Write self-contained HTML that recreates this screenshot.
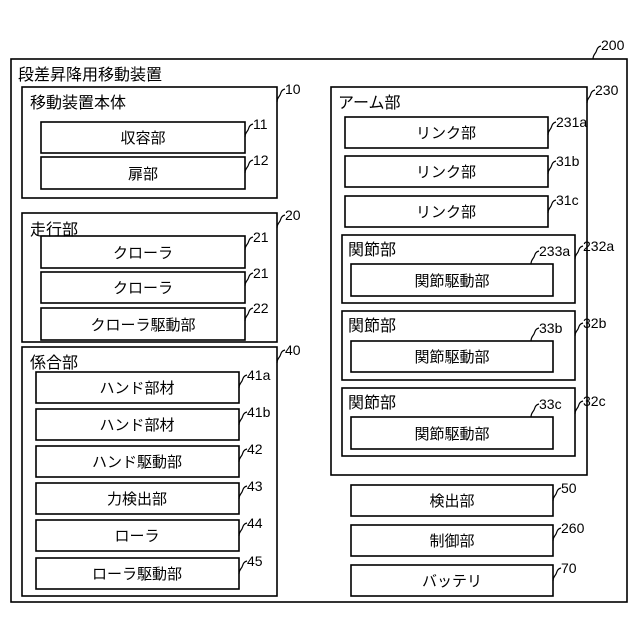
<!DOCTYPE html>
<html><head><meta charset="utf-8"><style>
html,body{margin:0;padding:0;background:#fff;}
svg{display:block}
text{font-family:"Liberation Sans","Noto Sans CJK JP",sans-serif;fill:#000}
.b{font-size:15px;text-anchor:middle}
.t{font-size:16px}
.n{font-size:14px}
rect{fill:none;stroke:#000;stroke-width:1.6}
path{fill:none;stroke:#000;stroke-width:1.2}
</style></head><body>
<svg width="640" height="640" viewBox="0 0 640 640" xmlns="http://www.w3.org/2000/svg">
<rect x="11" y="59" width="616" height="543"/>
<text class="t" x="18" y="80">段差昇降用移動装置</text>

<rect x="22" y="87" width="255" height="111"/>
<text class="t" x="30" y="108">移動装置本体</text>
<rect x="41" y="122" width="204" height="31"/><text class="b" x="143" y="143">収容部</text>
<rect x="41" y="157" width="204" height="32"/><text class="b" x="143" y="179">扉部</text>

<rect x="22" y="213" width="255" height="129"/>
<text class="t" x="30" y="235">走行部</text>
<rect x="41" y="236" width="204" height="32"/><text class="b" x="143" y="258">クローラ</text>
<rect x="41" y="272" width="204" height="31"/><text class="b" x="143" y="293">クローラ</text>
<rect x="41" y="308" width="204" height="32"/><text class="b" x="143" y="330">クローラ駆動部</text>

<rect x="22" y="347" width="255" height="249"/>
<text class="t" x="30" y="368">係合部</text>
<rect x="36" y="372" width="203" height="31"/><text class="b" x="137" y="393">ハンド部材</text>
<rect x="36" y="409" width="203" height="31"/><text class="b" x="137" y="430">ハンド部材</text>
<rect x="36" y="446" width="203" height="31"/><text class="b" x="137" y="467">ハンド駆動部</text>
<rect x="36" y="483" width="203" height="31"/><text class="b" x="137" y="504">力検出部</text>
<rect x="36" y="520" width="203" height="31"/><text class="b" x="137" y="541">ローラ</text>
<rect x="36" y="558" width="203" height="31"/><text class="b" x="137" y="579">ローラ駆動部</text>

<rect x="331" y="87" width="256" height="388"/>
<text class="t" x="338" y="108">アーム部</text>
<rect x="345" y="117" width="203" height="31"/><text class="b" x="446" y="138">リンク部</text>
<rect x="345" y="156" width="203" height="31"/><text class="b" x="446" y="177">リンク部</text>
<rect x="345" y="196" width="203" height="31"/><text class="b" x="446" y="217">リンク部</text>

<rect x="342" y="235" width="233" height="68"/>
<text class="t" x="348" y="255">関節部</text>
<rect x="351" y="264" width="202" height="32"/><text class="b" x="452" y="286">関節駆動部</text>

<rect x="342" y="311" width="233" height="69"/>
<text class="t" x="348" y="331">関節部</text>
<rect x="351" y="341" width="202" height="31"/><text class="b" x="452" y="362">関節駆動部</text>

<rect x="342" y="388" width="233" height="68"/>
<text class="t" x="348" y="408">関節部</text>
<rect x="351" y="417" width="202" height="32"/><text class="b" x="452" y="439">関節駆動部</text>

<rect x="351" y="485" width="202" height="31"/><text class="b" x="452" y="506">検出部</text>
<rect x="351" y="525" width="202" height="31"/><text class="b" x="452" y="546">制御部</text>
<rect x="351" y="565" width="202" height="31"/><text class="b" x="452" y="586">バッテリ</text>

<g>
<path d="M593,59 c0,-4 2,-5 3,-7 s1,-5 5,-6"/><text class="n" x="601" y="50">200</text>
<path d="M277,102 c0,-4 2,-5 3,-7 s1,-5 5,-6"/><text class="n" x="285" y="94">10</text>
<path d="M245,137 c0,-4 2,-5 3,-7 s1,-5 5,-6"/><text class="n" x="253" y="129">11</text>
<path d="M245,173 c0,-4 2,-5 3,-7 s1,-5 5,-6"/><text class="n" x="253" y="165">12</text>
<path d="M277,228 c0,-4 2,-5 3,-7 s1,-5 5,-6"/><text class="n" x="285" y="220">20</text>
<path d="M245,250 c0,-4 2,-5 3,-7 s1,-5 5,-6"/><text class="n" x="253" y="242">21</text>
<path d="M245,286 c0,-4 2,-5 3,-7 s1,-5 5,-6"/><text class="n" x="253" y="278">21</text>
<path d="M245,321 c0,-4 2,-5 3,-7 s1,-5 5,-6"/><text class="n" x="253" y="313">22</text>
<path d="M277,363 c0,-4 2,-5 3,-7 s1,-5 5,-6"/><text class="n" x="285" y="355">40</text>
<path d="M239,388 c0,-4 2,-5 3,-7 s1,-5 5,-6"/><text class="n" x="247" y="380">41a</text>
<path d="M239,425 c0,-4 2,-5 3,-7 s1,-5 5,-6"/><text class="n" x="247" y="417">41b</text>
<path d="M239,462 c0,-4 2,-5 3,-7 s1,-5 5,-6"/><text class="n" x="247" y="454">42</text>
<path d="M239,499 c0,-4 2,-5 3,-7 s1,-5 5,-6"/><text class="n" x="247" y="491">43</text>
<path d="M239,536 c0,-4 2,-5 3,-7 s1,-5 5,-6"/><text class="n" x="247" y="528">44</text>
<path d="M239,574 c0,-4 2,-5 3,-7 s1,-5 5,-6"/><text class="n" x="247" y="566">45</text>
<path d="M587,103 c0,-4 2,-5 3,-7 s1,-5 5,-6"/><text class="n" x="595" y="95">230</text>
<path d="M548,135 c0,-4 2,-5 3,-7 s1,-5 5,-6"/><text class="n" x="556" y="127">231a</text>
<path d="M548,174 c0,-4 2,-5 3,-7 s1,-5 5,-6"/><text class="n" x="556" y="166">31b</text>
<path d="M548,213 c0,-4 2,-5 3,-7 s1,-5 5,-6"/><text class="n" x="556" y="205">31c</text>
<path d="M531,264 c0,-4 2,-5 3,-7 s1,-5 5,-6"/><text class="n" x="539" y="256">233a</text>
<path d="M575,259 c0,-4 2,-5 3,-7 s1,-5 5,-6"/><text class="n" x="583" y="251">232a</text>
<path d="M531,341 c0,-4 2,-5 3,-7 s1,-5 5,-6"/><text class="n" x="539" y="333">33b</text>
<path d="M575,336 c0,-4 2,-5 3,-7 s1,-5 5,-6"/><text class="n" x="583" y="328">32b</text>
<path d="M531,417 c0,-4 2,-5 3,-7 s1,-5 5,-6"/><text class="n" x="539" y="409">33c</text>
<path d="M575,414 c0,-4 2,-5 3,-7 s1,-5 5,-6"/><text class="n" x="583" y="406">32c</text>
<path d="M553,501 c0,-4 2,-5 3,-7 s1,-5 5,-6"/><text class="n" x="561" y="493">50</text>
<path d="M553,541 c0,-4 2,-5 3,-7 s1,-5 5,-6"/><text class="n" x="561" y="533">260</text>
<path d="M553,581 c0,-4 2,-5 3,-7 s1,-5 5,-6"/><text class="n" x="561" y="573">70</text>
</g>
</svg>
</body></html>
